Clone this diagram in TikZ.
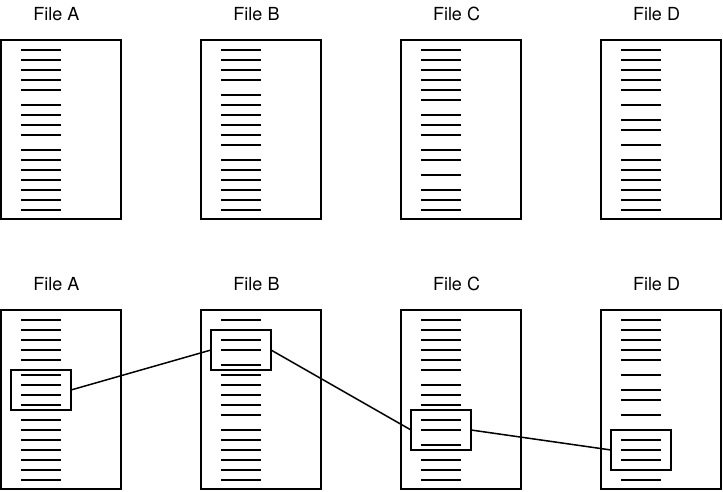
\documentclass[tikz,border=0pt]{standalone}
\usepackage{fontspec}
\setmainfont{TeX Gyre Heros}
\begin{document}
\begin{tikzpicture}[x=1pt,y=-1pt,
  filebox/.style={draw,line width=2pt,inner sep=0pt,outer sep=0pt,anchor=north west,
    minimum width=120pt,minimum height=179.3pt},
  txt/.style={line width=2pt},
  hilite/.style={draw,line width=2pt,inner sep=0pt,outer sep=0pt,anchor=north west,
    minimum width=60pt,minimum height=40pt},
  link/.style={line width=1.5pt},
  lbl/.style={anchor=base,inner sep=0pt,font=\fontsize{18}{18}\selectfont}]
\useasboundingbox (0,0) rectangle (723,492);
% slot lists (y = 50 + 5*slot)
\def\slotsA{0,2,4,6,8,11,13,15,17,20,22,24,26,28,30,32}
\def\slotsB{0,2,4,6,9,11,13,15,17,19,22,24,26,28,30,32}
\def\slotsC{0,2,4,6,8,10,13,15,17,20,22,25,28,30,32}
\def\slotsD{0,2,4,6,8,11,14,16,19,22,24,26,28,30,32}
\foreach \name/\x in {A/1,B/201,C/401,D/601}{
  \edef\myslots{\csname slots\name\endcsname}
  \foreach \row/\dy in {top/0,bot/270}{
    \node[filebox] (\row\name) at (\x,40+\dy) {};
    \node[lbl] (\row lbl\name) at (\x+55.5,20.7+\dy) {File \name};
    \foreach \s in \myslots {
      \draw[txt] (\x+20,50+5*\s+\dy) -- (\x+60,50+5*\s+\dy);
    }
  }
}
% highlight rectangles
\node[hilite] (hA) at (11,370) {};
\node[hilite] (hB) at (211,330) {};
\node[hilite] (hC) at (411,410) {};
\node[hilite] (hD) at (611,430) {};
\draw[link] (hA.east) -- (hB.west);
\draw[link] (hB.east) -- (hC.west);
\draw[link] (hC.east) -- (hD.west);
\end{tikzpicture}
\end{document}
